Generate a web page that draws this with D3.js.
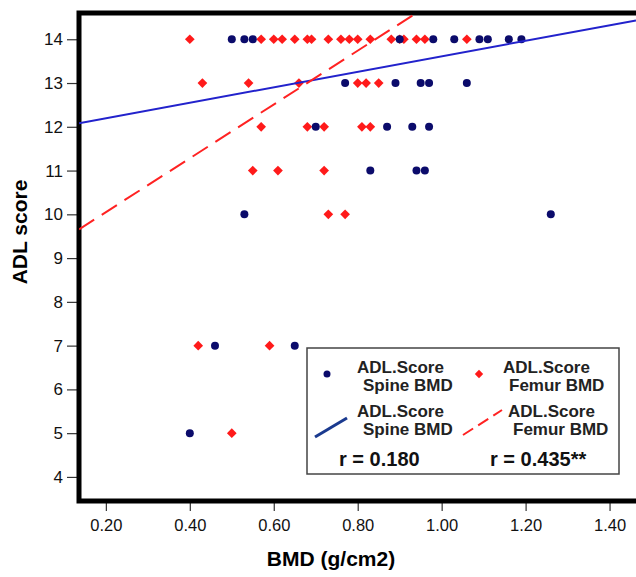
<!DOCTYPE html>
<html>
<head>
<meta charset="utf-8">
<script src="https://cdn.jsdelivr.net/npm/d3@7"></script>
<style>
  body { margin: 0; background: #fff; }
  text { font-family: "Liberation Sans", Arial, sans-serif; }
</style>
</head>
<body>
<div id="chart"></div>
<script>
// spine BMD vs ADL score (blue dots)
const spineBMD = [0.50, 0.53, 0.55, 0.90, 0.98, 1.03, 1.09, 1.11, 1.16, 1.19,
  0.77, 0.89, 0.95, 0.97, 1.06,
  0.70, 0.87, 0.93, 0.97,
  0.83, 0.94, 0.96,
  0.53, 1.26,
  0.46, 0.65,
  0.40];
const spineADL = [14, 14, 14, 14, 14, 14, 14, 14, 14, 14,
  13, 13, 13, 13, 13,
  12, 12, 12, 12,
  11, 11, 11,
  10, 10,
  7, 7,
  5];

// femur BMD vs ADL score (red diamonds)
const femurBMD = [0.40, 0.57, 0.60, 0.62, 0.65, 0.68, 0.69, 0.73, 0.76, 0.78, 0.80, 0.83, 0.88, 0.90, 0.91, 0.94, 0.96, 1.06,
  0.43, 0.54, 0.66, 0.80, 0.82, 0.85,
  0.57, 0.68, 0.72, 0.81, 0.83,
  0.55, 0.61, 0.72,
  0.73, 0.77,
  0.42, 0.59,
  0.50];
const femurADL = [14, 14, 14, 14, 14, 14, 14, 14, 14, 14, 14, 14, 14, 14, 14, 14, 14, 14,
  13, 13, 13, 13, 13, 13,
  12, 12, 12, 12, 12,
  11, 11, 11,
  10, 10,
  7, 7,
  5];

// fit lines: [intercept, slope]
const spineFit = [11.84, 1.77];
const femurFit = [8.82, 6.15];

const xTicks = [0.2, 0.4, 0.6, 0.8, 1.0, 1.2, 1.4];
const yTicks = [4, 5, 6, 7, 8, 9, 10, 11, 12, 13, 14];

const W = 636, H = 577;
const m = { left: 79, right: 640, top: 13, bottom: 501 };

const svg = d3.select("#chart").append("svg")
  .attr("width", W)
  .attr("height", H);

const x = d3.scaleLinear().domain([0.136, 1.463]).range([m.left, m.left + 557]);
const y = d3.scaleLinear().domain([3.45, 14.6]).range([m.bottom, m.top]);

svg.append("clipPath").attr("id", "plotclip")
  .append("rect")
  .attr("x", m.left).attr("y", m.top)
  .attr("width", m.right - m.left).attr("height", m.bottom - m.top);

// axes
const yAxis = svg.append("g")
  .attr("transform", `translate(${m.left - 2},0)`)
  .call(d3.axisLeft(y).tickValues(yTicks).tickSize(10).tickFormat(d3.format("d")).tickSizeOuter(0));
yAxis.select(".domain").remove();
yAxis.selectAll("line").attr("stroke", "#333").attr("stroke-width", 1.2);
yAxis.selectAll("text").attr("font-size", 17).attr("fill", "#111").attr("dx", "-1");

const xAxis = svg.append("g")
  .attr("transform", `translate(0,${m.bottom + 2})`)
  .call(d3.axisBottom(x).tickValues(xTicks).tickSize(8).tickFormat(d3.format(".2f")).tickSizeOuter(0));
xAxis.select(".domain").remove();
xAxis.selectAll("line").attr("stroke", "#333").attr("stroke-width", 1.2);
xAxis.selectAll("text").attr("font-size", 16.5).attr("fill", "#111").attr("dy", "1.05em");

// frame
svg.append("rect")
  .attr("x", m.left).attr("y", m.top)
  .attr("width", m.right - m.left).attr("height", m.bottom - m.top)
  .attr("fill", "none")
  .attr("stroke", "#000")
  .attr("stroke-width", 5);

// axis titles
svg.append("text")
  .attr("x", 331).attr("y", 566)
  .attr("text-anchor", "middle")
  .attr("font-size", 21).attr("font-weight", "bold")
  .text("BMD (g/cm2)");

svg.append("text")
  .attr("transform", "translate(27,232) rotate(-90)")
  .attr("text-anchor", "middle")
  .attr("font-size", 21).attr("font-weight", "bold")
  .text("ADL score");

const plot = svg.append("g").attr("clip-path", "url(#plotclip)");

// points
const spine = spineBMD.map((d, i) => ({ bmd: d, adl: spineADL[i] }));
const femur = femurBMD.map((d, i) => ({ bmd: d, adl: femurADL[i] }));

const diamond = d3.symbol().type(d3.symbolDiamond2).size(60);

plot.selectAll("path.femur")
  .data(femur)
  .join("path")
  .attr("class", "femur")
  .attr("transform", d => `translate(${x(d.bmd)},${y(d.adl)})`)
  .attr("d", diamond)
  .attr("fill", "#ff1a1a");

plot.selectAll("circle.spine")
  .data(spine)
  .join("circle")
  .attr("class", "spine")
  .attr("cx", d => x(d.bmd))
  .attr("cy", d => y(d.adl))
  .attr("r", 4)
  .attr("fill", "#0b0b6b");

// fit lines
const xd = x.domain();
const fitLine = f => xd.map(v => [x(v), y(f[0] + f[1] * v)]);

plot.append("path")
  .attr("d", d3.line()(fitLine(spineFit)))
  .attr("stroke", "#2222cc")
  .attr("stroke-width", 2)
  .attr("fill", "none");

plot.append("path")
  .attr("d", d3.line()(fitLine(femurFit)))
  .attr("stroke", "#ff2222")
  .attr("stroke-width", 2)
  .attr("stroke-dasharray", "18,9")
  .attr("fill", "none");

// legend
const lg = svg.append("g");
lg.append("rect")
  .attr("x", 307).attr("y", 348)
  .attr("width", 312).attr("height", 126)
  .attr("fill", "#fff")
  .attr("stroke", "#444")
  .attr("stroke-width", 1.5);

lg.append("circle").attr("cx", 327).attr("cy", 374).attr("r", 3.5).attr("fill", "#0b0b6b");
lg.append("path").attr("transform", "translate(479,374)")
  .attr("d", d3.symbol().type(d3.symbolDiamond2).size(45)).attr("fill", "#ff1a1a");
lg.append("line").attr("x1", 315).attr("y1", 437).attr("x2", 347).attr("y2", 418)
  .attr("stroke", "#1a3a8f").attr("stroke-width", 3);
lg.append("line").attr("x1", 463).attr("y1", 435).attr("x2", 502).attr("y2", 410)
  .attr("stroke", "#ff2222").attr("stroke-width", 2).attr("stroke-dasharray", "12,6");

const legendText = [
  [357, 373, "ADL.Score"], [363, 391, "Spine BMD"],
  [503, 373, "ADL.Score"], [509, 391, "Femur BMD"],
  [357, 417, "ADL.Score"], [363, 435, "Spine BMD"],
  [508, 417, "ADL.Score"], [513, 435, "Femur BMD"]
];
lg.selectAll("text.lt")
  .data(legendText)
  .join("text")
  .attr("class", "lt")
  .attr("x", d => d[0]).attr("y", d => d[1])
  .attr("font-size", 17).attr("font-weight", "bold").attr("fill", "#222")
  .text(d => d[2]);

lg.append("text").attr("x", 339).attr("y", 466)
  .attr("font-size", 20).attr("font-weight", "bold").attr("fill", "#111")
  .text("r = 0.180");
lg.append("text").attr("x", 490).attr("y", 466)
  .attr("font-size", 20).attr("font-weight", "bold").attr("fill", "#111")
  .text("r = 0.435**");
</script>
</body>
</html>
